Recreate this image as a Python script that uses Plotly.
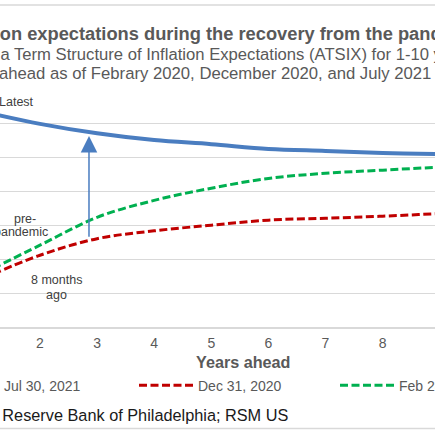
import plotly.graph_objects as go

# ---- data ----
years = [1, 2, 3, 4, 5, 6, 7, 8, 9, 10]
jul_2021 = [2.59, 2.50, 2.43, 2.38, 2.35, 2.315, 2.30, 2.285, 2.277, 2.27]
dec_2020 = [1.358, 1.530, 1.652, 1.71, 1.752, 1.789, 1.803, 1.818, 1.837, 1.85]
feb_2020 = [1.395, 1.604, 1.81, 1.935, 2.025, 2.097, 2.135, 2.158, 2.18, 2.195]
series_names = ["Jul 30, 2021", "Dec 31, 2020", "Feb 28, 2020"]
tick_labels = [str(y) for y in years]

W, H = 435, 435
T, B = 90, 327  # plot area top/bottom in px


def px_x(px):
    return px / W


def px_y(py):
    return (B - py) / (B - T)


FONT = "Liberation Sans, Arial, sans-serif"
GRAY = "#595959"
DASH = "8px,3.5px"

fig = go.Figure()
fig.add_trace(go.Scatter(x=years, y=jul_2021, name=series_names[0], mode="lines",
                         line=dict(color="#4a7dc0", width=4, shape="spline"),
                         legend="legend"))
fig.add_trace(go.Scatter(x=years, y=dec_2020, name=series_names[1], mode="lines",
                         line=dict(color="#c00000", width=3, dash=DASH, shape="spline"),
                         legend="legend2"))
fig.add_trace(go.Scatter(x=years, y=feb_2020, name=series_names[2], mode="lines",
                         line=dict(color="#00b050", width=3, dash=DASH, shape="spline"),
                         legend="legend3"))

leg_common = dict(orientation="h", itemwidth=54, yanchor="middle", xanchor="left",
                  font=dict(family=FONT, size=14, color=GRAY),
                  bgcolor="rgba(0,0,0,0)", borderwidth=0, y=px_y(385.7))

annotations = [
    # titles
    dict(text="<b>Inflation expectations during the recovery from the pandemic</b>",
         x=px_x(217), y=px_y(33.5), xanchor="center",
         font=dict(family=FONT, size=18.3, color=GRAY)),
    dict(text="Philadelphia Term Structure of Inflation Expectations (ATSIX) for 1-10 years",
         x=px_x(-83), y=px_y(54), xanchor="left",
         font=dict(family=FONT, size=16.65, color=GRAY)),
    dict(text="ahead as of Febrary 2020, December 2020, and July 2021",
         x=px_x(214.7), y=px_y(73.2), xanchor="center",
         font=dict(family=FONT, size=16.7, color=GRAY)),
    # axis title
    dict(text="<b>Years ahead</b>", x=px_x(243), y=px_y(361.7), xanchor="center",
         font=dict(family=FONT, size=16.2, color=GRAY)),
    # source
    dict(text="Source: Federal Reserve Bank of Philadelphia; RSM US",
         x=px_x(289.5), y=px_y(415), xanchor="right",
         font=dict(family=FONT, size=16.3, color="#1a1a1a")),
    # labels in the plot
    dict(text="Latest", x=px_x(16.5), y=px_y(102), xanchor="center",
         font=dict(family=FONT, size=12.5, color="#404040")),
    dict(text="pre-", x=px_x(24.5), y=px_y(218.8), xanchor="center",
         font=dict(family=FONT, size=12.5, color="#404040")),
    dict(text="pandemic", x=px_x(21), y=px_y(232.2), xanchor="center",
         font=dict(family=FONT, size=12.5, color="#404040")),
    dict(text="8 months", x=px_x(56), y=px_y(279.8), xanchor="center",
         font=dict(family=FONT, size=12.5, color="#404040")),
    dict(text="ago", x=px_x(56), y=px_y(294.8), xanchor="center",
         font=dict(family=FONT, size=12.5, color="#404040")),
]
for a in annotations:
    a.update(xref="paper", yref="paper", yanchor="middle", showarrow=False)

# arrow from the pre-pandemic curves to the latest curve
annotations.append(dict(x=2.858, y=2.41, ax=2.858, ay=1.656, xref="x", yref="y",
                        axref="x", ayref="y", text="", showarrow=True,
                        arrowhead=2, arrowsize=2.2, arrowwidth=1.5, arrowcolor="#4a7dc0"))

fig.update_layout(
    width=W, height=H,
    margin=dict(l=0, r=0, t=T, b=H - B, pad=0, autoexpand=False),
    paper_bgcolor="white", plot_bgcolor="white",
    font=dict(family=FONT, color=GRAY),
    showlegend=True,
    legend=dict(leg_common, x=px_x(-60)),
    legend2=dict(leg_common, x=px_x(134)),
    legend3=dict(leg_common, x=px_x(335)),
    annotations=annotations,
    shapes=[
        dict(type="line", xref="paper", yref="paper", x0=0, x1=1, y0=px_y(5), y1=px_y(5),
             line=dict(color="#d9d9d9", width=1.5)),
        dict(type="line", xref="paper", yref="paper", x0=0, x1=1, y0=px_y(428.5), y1=px_y(428.5),
             line=dict(color="#d9d9d9", width=1.5)),
    ],
    xaxis=dict(range=[2 - 40 / 57.1, 2 + (W - 40) / 57.1], tickvals=years, ticktext=tick_labels,
               tickfont=dict(family=FONT, size=14, color=GRAY), ticks="", showgrid=False,
               ticklabelstandoff=2,
               zeroline=False, showline=True, linecolor="#d9d9d9", linewidth=1.5),
    yaxis=dict(range=[1.0, 2.75], tick0=1.0, dtick=0.25, showticklabels=False, ticks="",
               showgrid=True, gridcolor="#d9d9d9", gridwidth=1.3, zeroline=False),
)

fig.write_html("out.html", config={"displayModeBar": False},
               post_script="document.body.style.margin='0px';document.body.style.overflow='hidden';")
